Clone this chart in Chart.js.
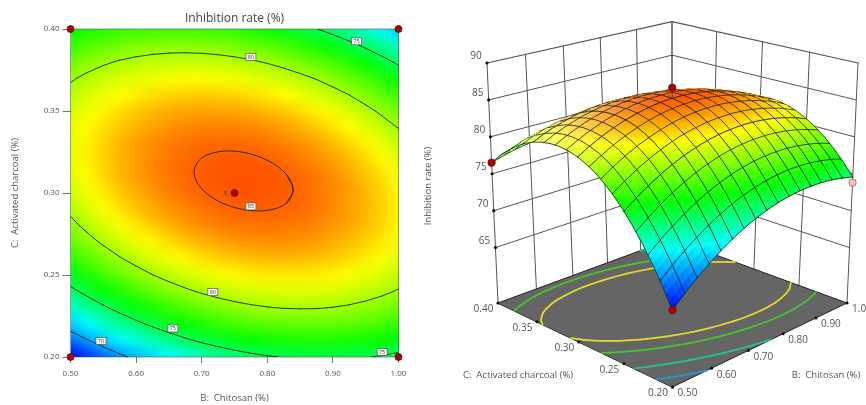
<!DOCTYPE html>
<html>
<head>
<meta charset="utf-8">
<title>Inhibition rate</title>
<script src="https://cdn.jsdelivr.net/npm/chart.js@4"></script>
<style>
    html, body { margin: 0; padding: 0; background: #fff; overflow: hidden; }
    canvas { position: absolute; top: 0; filter: blur(0.35px); }
    #contour { left: 0; }
    #surface { left: 415px; }
</style>
</head>
<body>
<canvas id="contour" width="415" height="405"></canvas>
<canvas id="surface" width="451" height="405"></canvas>
<script>
// values
const chitosanTicks = [0.5, 0.6, 0.7, 0.8, 0.9, 1.0];
const charcoalTicks = [0.2, 0.25, 0.3, 0.35, 0.4];
const rateTicks = [65, 70, 75, 80, 85, 90];

const chitosan = [0.5, 0.525, 0.55, 0.575, 0.6, 0.625, 0.65, 0.675, 0.7, 0.725, 0.75, 0.775, 0.8, 0.825, 0.85, 0.875, 0.9, 0.925, 0.95, 0.975, 1.0];
const charcoal = [0.4, 0.39, 0.38, 0.37, 0.36, 0.35, 0.34, 0.33, 0.32, 0.31, 0.3, 0.29, 0.28, 0.27, 0.26, 0.25, 0.24, 0.23, 0.22, 0.21, 0.2];

// one row per charcoal value, one column per chitosan value
const rate = [
    [76.49, 76.90, 77.25, 77.52, 77.72, 77.84, 77.89, 77.87, 77.77, 77.60, 77.36, 77.04, 76.66, 76.20, 75.66, 75.05, 74.37, 73.62, 72.79, 71.89, 70.91],
    [77.78, 78.23, 78.61, 78.91, 79.14, 79.30, 79.39, 79.40, 79.34, 79.20, 78.99, 78.71, 78.36, 77.93, 77.43, 76.85, 76.21, 75.49, 74.69, 73.83, 72.89],
    [78.88, 79.37, 79.78, 80.12, 80.38, 80.58, 80.69, 80.74, 80.71, 80.61, 80.44, 80.19, 79.87, 79.48, 79.01, 78.47, 77.86, 77.17, 76.41, 75.58, 74.67],
    [79.80, 80.32, 80.76, 81.14, 81.44, 81.66, 81.81, 81.90, 81.90, 81.83, 81.69, 81.48, 81.20, 80.84, 80.40, 79.90, 79.32, 78.67, 77.94, 77.14, 76.27],
    [80.53, 81.08, 81.56, 81.96, 82.30, 82.56, 82.75, 82.86, 82.90, 82.87, 82.76, 82.58, 82.33, 82.01, 81.61, 81.13, 80.59, 79.97, 79.28, 78.51, 77.68],
    [81.06, 81.65, 82.16, 82.61, 82.97, 83.27, 83.49, 83.64, 83.71, 83.71, 83.64, 83.50, 83.28, 82.99, 82.62, 82.18, 81.67, 81.09, 80.43, 79.70, 78.90],
    [81.41, 82.03, 82.58, 83.06, 83.46, 83.79, 84.04, 84.22, 84.33, 84.37, 84.33, 84.22, 84.04, 83.78, 83.45, 83.04, 82.57, 82.02, 81.39, 80.70, 79.93],
    [81.57, 82.23, 82.81, 83.32, 83.76, 84.12, 84.41, 84.62, 84.77, 84.84, 84.83, 84.76, 84.61, 84.38, 84.09, 83.72, 83.27, 82.76, 82.17, 81.51, 80.77],
    [81.55, 82.23, 82.85, 83.39, 83.86, 84.26, 84.58, 84.83, 85.01, 85.11, 85.15, 85.10, 84.99, 84.80, 84.54, 84.20, 83.79, 83.31, 82.76, 82.13, 81.43],
    [81.33, 82.05, 82.70, 83.28, 83.78, 84.21, 84.57, 84.86, 85.07, 85.20, 85.27, 85.26, 85.18, 85.03, 84.80, 84.50, 84.12, 83.67, 83.15, 82.56, 81.89],
    [80.92, 81.68, 82.37, 82.98, 83.51, 83.98, 84.37, 84.69, 84.94, 85.11, 85.21, 85.23, 85.18, 85.06, 84.87, 84.60, 84.26, 83.85, 83.36, 82.80, 82.17],
    [80.33, 81.12, 81.84, 82.49, 83.06, 83.56, 83.98, 84.33, 84.61, 84.82, 84.95, 85.01, 85.00, 84.91, 84.75, 84.52, 84.21, 83.83, 83.38, 82.85, 82.26],
    [79.55, 80.37, 81.13, 81.81, 82.41, 82.94, 83.40, 83.79, 84.10, 84.34, 84.51, 84.60, 84.63, 84.57, 84.45, 84.25, 83.98, 83.63, 83.21, 82.72, 82.16],
    [78.58, 79.44, 80.22, 80.94, 81.58, 82.14, 82.64, 83.06, 83.41, 83.68, 83.88, 84.01, 84.06, 84.05, 83.95, 83.79, 83.55, 83.24, 82.86, 82.40, 81.87],
    [77.42, 78.31, 79.13, 79.88, 80.55, 81.15, 81.68, 82.14, 82.52, 82.83, 83.06, 83.22, 83.31, 83.33, 83.27, 83.14, 82.94, 82.66, 82.31, 81.88, 81.39],
    [76.07, 77.00, 77.85, 78.63, 79.34, 79.98, 80.54, 81.03, 81.44, 81.79, 82.06, 82.25, 82.37, 82.42, 82.40, 82.30, 82.13, 81.89, 81.57, 81.18, 80.72],
    [74.53, 75.49, 76.38, 77.20, 77.94, 78.61, 79.21, 79.73, 80.18, 80.56, 80.86, 81.09, 81.25, 81.33, 81.34, 81.28, 81.14, 80.93, 80.65, 80.30, 79.87],
    [72.81, 73.80, 74.73, 75.58, 76.35, 77.06, 77.69, 78.24, 78.73, 79.14, 79.48, 79.74, 79.93, 80.05, 80.09, 80.07, 79.96, 79.79, 79.54, 79.22, 78.82],
    [70.89, 71.92, 72.88, 73.76, 74.57, 75.31, 75.98, 76.57, 77.09, 77.53, 77.90, 78.20, 78.43, 78.58, 78.66, 78.66, 78.59, 78.45, 78.24, 77.95, 77.59],
    [68.79, 69.85, 70.85, 71.76, 72.61, 73.38, 74.08, 74.70, 75.26, 75.73, 76.14, 76.47, 76.73, 76.92, 77.03, 77.07, 77.04, 76.93, 76.75, 76.50, 76.17],
    [66.50, 67.60, 68.62, 69.58, 70.45, 71.26, 71.99, 72.65, 73.24, 73.75, 74.19, 74.56, 74.85, 75.07, 75.22, 75.29, 75.29, 75.22, 75.07, 74.85, 74.56]
];

const contourLevels = [70, 75, 80];

// the small 85 ring. first and last points overlap so the loop closes smoothly
const ringChitosan = [0.8291, 0.8392, 0.8291, 0.8014, 0.7637, 0.7260, 0.6983, 0.6883, 0.6983, 0.7260, 0.7637, 0.8014, 0.8291, 0.8392, 0.8291];
const ringCharcoal = [0.2938, 0.3018, 0.3113, 0.3197, 0.3248, 0.3252, 0.3208, 0.3128, 0.3034, 0.2949, 0.2899, 0.2895, 0.2938, 0.3018, 0.3113];

const labelChitosan = [0.936, 0.775, 0.775, 0.717, 0.656, 0.5465, 0.975];
const labelCharcoal = [0.3925, 0.383, 0.2918, 0.2396, 0.2174, 0.2098, 0.203];
const labelText = ['75', '80', '85', '80', '75', '70', '75'];

const pointChitosan = [0.5, 1.0, 0.5, 1.0, 0.75];
const pointCharcoal = [0.2, 0.2, 0.4, 0.4, 0.3];

// design points shown on the 3D view
const point3dChitosan = [0.5, 0.75, 0.5, 1.0];
const point3dCharcoal = [0.4, 0.3, 0.2, 0.2];
const point3dRate = [76.5, 86.65, 66.5, 73.8];

const floorLevels = [70, 74.4, 79, 81.3];
const floorColors = ['#2396d8', '#1ec896', '#46c828', '#e6dc28'];

const rampStops = [66.5, 72, 76.5, 82, 86.8];
const rampColors = [[0, 0, 255], [0, 255, 255], [0, 255, 0], [255, 255, 0], [255, 0, 0]];

const fontName = '"Open Sans", "Noto Sans", sans-serif';
const textColor = '#555';

function rampColor(z) {
    let i = 0;
    while (i < rampStops.length - 2 && z > rampStops[i + 1]) i++;
    let f = (z - rampStops[i]) / (rampStops[i + 1] - rampStops[i]);
    f = Math.max(0, Math.min(1, f));
    return rampColors[i].map((c, k) => Math.round(c + (rampColors[i + 1][k] - c) * f));
}

// marching squares over the table, gives a list of little segments
function contourSegments(level) {
    const segments = [];
    for (let r = 0; r < charcoal.length - 1; r++) {
        for (let c = 0; c < chitosan.length - 1; c++) {
            const corners = [[r, c], [r, c + 1], [r + 1, c + 1], [r + 1, c]];
            const hits = [];
            for (let k = 0; k < 4; k++) {
                const p = corners[k], q = corners[(k + 1) % 4];
                const zp = rate[p[0]][p[1]], zq = rate[q[0]][q[1]];
                if ((zp < level) !== (zq < level)) {
                    const f = (level - zp) / (zq - zp);
                    hits.push({
                        x: chitosan[p[1]] + (chitosan[q[1]] - chitosan[p[1]]) * f,
                        y: charcoal[p[0]] + (charcoal[q[0]] - charcoal[p[0]]) * f
                    });
                }
            }
            for (let k = 0; k + 1 < hits.length; k += 2) segments.push([hits[k], hits[k + 1]]);
        }
    }
    return segments;
}

function gappedLine(segments) {
    const data = [];
    segments.forEach(s => data.push(s[0], s[1], { x: null, y: null }));
    return data;
}

//Contour plot

const heatmapPlugin = {
    id: 'heatmap',
    beforeDatasetsDraw(chart) {
        const { ctx, scales: { x, y } } = chart;
        const small = document.createElement('canvas');
        small.width = chitosan.length;
        small.height = charcoal.length;
        const sctx = small.getContext('2d');
        const img = sctx.createImageData(small.width, small.height);
        rate.forEach((row, r) => row.forEach((z, c) => {
            const col = rampColor(z), at = (r * small.width + c) * 4;
            img.data[at] = col[0];
            img.data[at + 1] = col[1];
            img.data[at + 2] = col[2];
            img.data[at + 3] = 255;
        }));
        sctx.putImageData(img, 0, 0);
        const left = x.getPixelForValue(chitosan[0]), right = x.getPixelForValue(chitosan[chitosan.length - 1]);
        const top = y.getPixelForValue(charcoal[0]), bottom = y.getPixelForValue(charcoal[charcoal.length - 1]);
        ctx.save();
        ctx.imageSmoothingEnabled = true;
        ctx.imageSmoothingQuality = 'high';
        ctx.drawImage(small, 0.5, 0.5, small.width - 1, small.height - 1, left, top, right - left, bottom - top);
        ctx.strokeStyle = 'rgba(60,80,60,0.55)';
        ctx.lineWidth = 1;
        ctx.strokeRect(left, top, right - left, bottom - top);
        ctx.restore();
    },
    afterDatasetsDraw(chart) {
        const { ctx, scales: { x, y } } = chart;
        ctx.save();
        ctx.font = '5.5px ' + fontName;
        ctx.textAlign = 'center';
        ctx.textBaseline = 'middle';
        labelText.forEach((t, i) => {
            const px = x.getPixelForValue(labelChitosan[i]), py = y.getPixelForValue(labelCharcoal[i]);
            ctx.fillStyle = '#fff';
            ctx.strokeStyle = '#555';
            ctx.lineWidth = 0.7;
            ctx.fillRect(px - 5, py - 3.5, 10, 7);
            ctx.strokeRect(px - 5, py - 3.5, 10, 7);
            ctx.fillStyle = '#333';
            ctx.fillText(t, px, py + 0.3);
        });
        ctx.fillStyle = '#333';
        ctx.fillText('5', x.getPixelForValue(0.75) - 9, y.getPixelForValue(0.3));
        ctx.restore();
    }
};

const contourLine = {
    showLine: true,
    spanGaps: false,
    pointRadius: 0,
    borderColor: 'rgba(30,40,25,0.9)',
    borderWidth: 1,
    borderCapStyle: 'round'
};

new Chart(document.querySelector('#contour'), {
    type: 'scatter',
    data: {
        datasets: [
            ...contourLevels.map(level => ({ ...contourLine, data: gappedLine(contourSegments(level)), tension: 0 })),
            { ...contourLine, data: ringChitosan.map((b, i) => ({ x: b, y: ringCharcoal[i] })), tension: 0.35 },
            {
                data: pointChitosan.map((b, i) => ({ x: b, y: pointCharcoal[i] })),
                pointRadius: 3.5,
                pointBackgroundColor: '#b00000',
                pointBorderColor: '#5a1010',
                pointBorderWidth: 0.8,
                clip: false
            }
        ]
    },
    options: {
        responsive: false,
        animation: false,
        devicePixelRatio: 1,
        layout: { autoPadding: false, padding: { right: 16.5 } },
        plugins: {
            legend: { display: false },
            tooltip: { enabled: false },
            title: {
                display: true,
                text: 'Inhibition rate (%)',
                color: '#444',
                fullSize: false,
                font: { family: fontName, size: 12, weight: 'normal', lineHeight: 1.2 },
                padding: { top: 11, bottom: 3.6 }
            }
        },
        scales: {
            x: {
                type: 'linear',
                min: 0.5,
                max: 1.0,
                afterFit: s => { s.height = 48; },
                afterBuildTicks: s => { s.ticks = chitosanTicks.map(v => ({ value: v })); },
                border: { display: false },
                grid: { drawOnChartArea: false, tickLength: 6, color: '#777' },
                ticks: {
                    callback: v => v.toFixed(2),
                    font: { family: fontName, size: 8 },
                    color: textColor,
                    maxRotation: 0,
                    padding: 6
                },
                title: {
                    display: true,
                    text: 'B:  Chitosan (%)',
                    color: textColor,
                    font: { family: fontName, size: 9.5 },
                    padding: { top: 0, bottom: 1 }
                }
            },
            y: {
                type: 'linear',
                min: 0.2,
                max: 0.4,
                afterFit: s => { s.width = 70.5; },
                afterBuildTicks: s => { s.ticks = charcoalTicks.map(v => ({ value: v })); },
                border: { display: false },
                grid: { drawOnChartArea: false, tickLength: 8, color: '#777' },
                ticks: {
                    callback: v => v.toFixed(2),
                    font: { family: fontName, size: 8 },
                    color: textColor,
                    padding: 3
                },
                title: {
                    display: true,
                    text: 'C:  Activated charcoal (%)',
                    color: textColor,
                    font: { family: fontName, size: 9.5 },
                    padding: { top: 10, bottom: 0 }
                }
            }
        }
    },
    plugins: [heatmapPlugin]
});

//3D view, the box is a perspective map of chitosan, charcoal and rate onto the page

const boxFloor = [[672.5, 387], [847, 303], [672, 239], [498, 303]];
const boxTop = [[672.5, 109], [858, 63], [672, 21.7], [487, 63]];
const zFloor = 57.5, zTop = 90;
const cellSplit = 3;
const meshCells = 16;

function squareToQuad(q) {
    const [[x0, y0], [x1, y1], [x2, y2], [x3, y3]] = q;
    const dx1 = x1 - x2, dx2 = x3 - x2, sx = x0 - x1 + x2 - x3;
    const dy1 = y1 - y2, dy2 = y3 - y2, sy = y0 - y1 + y2 - y3;
    const den = dx1 * dy2 - dx2 * dy1;
    const g = (sx * dy2 - dx2 * sy) / den, h = (dx1 * sy - sx * dy1) / den;
    const a = x1 - x0 + g * x1, b = x3 - x0 + h * x3;
    const d = y1 - y0 + g * y1, e = y3 - y0 + h * y3;
    return (u, v) => {
        const w = g * u + h * v + 1;
        return [(a * u + b * v + x0) / w, (d * u + e * v + y0) / w];
    };
}

const mapFloor = squareToQuad(boxFloor), mapTop = squareToQuad(boxTop);

function project(b, c, z) {
    const u = (b - 0.5) / 0.5, v = (c - 0.2) / 0.2;
    const low = mapFloor(u, v), high = mapTop(u, v);
    const f = (z - zFloor) / (zTop - zFloor);
    return { x: low[0] + (high[0] - low[0]) * f, y: low[1] + (high[1] - low[1]) * f };
}

const surfacePlugin = {
    id: 'surface3d',
    beforeDatasetsDraw(chart) {
        const { ctx, scales: { x, y } } = chart;
        const px = (b, c, z) => {
            const p = project(b, c, z);
            return [x.getPixelForValue(p.x), y.getPixelForValue(p.y)];
        };
        const line = (a, b) => {
            ctx.beginPath();
            ctx.moveTo(a[0], a[1]);
            ctx.lineTo(b[0], b[1]);
            ctx.stroke();
        };
        const dot = p => {
            ctx.beginPath();
            ctx.arc(p[0], p[1], 1.6, 0, Math.PI * 2);
            ctx.fill();
        };
        const quad = pts => {
            ctx.beginPath();
            pts.forEach((q, i) => {
                if (i === 0) ctx.moveTo(q[0], q[1]); else ctx.lineTo(q[0], q[1]);
            });
            ctx.closePath();
        };

        ctx.save();
        ctx.lineCap = 'round';
        ctx.lineJoin = 'round';

        // walls
        ctx.strokeStyle = '#555';
        ctx.lineWidth = 1;
        rateTicks.forEach(z => {
            ctx.lineWidth = z === 90 ? 1.2 : 1;
            line(px(0.5, 0.4, z), px(1, 0.4, z));
            line(px(1, 0.4, z), px(1, 0.2, z));
        });
        ctx.lineWidth = 1;
        chitosanTicks.forEach(b => line(px(b, 0.4, zFloor), px(b, 0.4, zTop)));
        charcoalTicks.forEach(c => line(px(1, c, zFloor), px(1, c, zTop)));

        // floor
        ctx.fillStyle = '#656565';
        quad([px(0.5, 0.2, zFloor), px(1, 0.2, zFloor), px(1, 0.4, zFloor), px(0.5, 0.4, zFloor)]);
        ctx.fill();
        ctx.strokeStyle = '#222';
        ctx.stroke();

        floorLevels.forEach((level, i) => {
            ctx.strokeStyle = floorColors[i];
            ctx.lineWidth = 1.7;
            contourSegments(level).forEach(s => line(px(s[0].x, s[0].y, zFloor), px(s[1].x, s[1].y, zFloor)));
        });

        // tick dots and labels
        ctx.fillStyle = '#111';
        rateTicks.forEach(z => dot(px(0.5, 0.4, z)));
        chitosanTicks.forEach(b => dot(px(b, 0.2, zFloor)));
        charcoalTicks.forEach(c => dot(px(0.5, c, zFloor)));

        ctx.fillStyle = textColor;
        ctx.font = '10px ' + fontName;
        ctx.textAlign = 'center';
        ctx.textBaseline = 'middle';
        rateTicks.forEach(z => {
            const p = px(0.5, 0.4, z);
            ctx.fillText(String(z), p[0] - 11, p[1] - 6.5);
        });
        chitosanTicks.forEach(b => {
            const p = px(b, 0.2, zFloor);
            ctx.fillText(b.toFixed(2), p[0] + 15, p[1] + 6.5);
        });
        charcoalTicks.forEach(c => {
            const p = px(0.5, c, zFloor);
            ctx.fillText(c.toFixed(2), p[0] - 14.5, p[1] + 6.5);
        });

        ctx.font = '9.5px ' + fontName;
        ctx.fillText('C:  Activated charcoal (%)', x.getPixelForValue(518), y.getPixelForValue(375.7));
        ctx.fillText('B:  Chitosan (%)', x.getPixelForValue(826), y.getPixelForValue(375.7));
        ctx.save();
        ctx.translate(x.getPixelForValue(428), y.getPixelForValue(186));
        ctx.rotate(-Math.PI / 2);
        ctx.fillText('Inhibition rate (%)', 0, 0);
        ctx.restore();

        // surface, back corner first so nearer cells cover it
        const meshStep = (chitosan.length - 1) / meshCells;
        for (let r = 0; r < charcoal.length - 1; r++) {
            for (let c = chitosan.length - 2; c >= 0; c--) {
                const z00 = rate[r][c], z01 = rate[r][c + 1], z10 = rate[r + 1][c], z11 = rate[r + 1][c + 1];
                const b0 = chitosan[c], b1 = chitosan[c + 1], c0 = charcoal[r], c1 = charcoal[r + 1];
                const corner = (f, g) => {
                    const z = z00 * (1 - f) * (1 - g) + z01 * f * (1 - g) + z10 * (1 - f) * g + z11 * f * g;
                    return px(b0 + (b1 - b0) * f, c0 + (c1 - c0) * g, z);
                };
                // light comes from the left corner of the box, those slopes look paler
                const slope = ((z01 + z11 - z00 - z10) / 2 - (z00 + z01 - z10 - z11) / 2) / 0.1;
                const pale = Math.max(0, Math.min(0.42, 0.07 + 0.04 * slope));
                ctx.lineWidth = 0.5;
                for (let i = 0; i < cellSplit; i++) {
                    for (let j = 0; j < cellSplit; j++) {
                        const f = (j + 0.5) / cellSplit, g = (i + 0.5) / cellSplit;
                        const z = z00 * (1 - f) * (1 - g) + z01 * f * (1 - g) + z10 * (1 - f) * g + z11 * f * g;
                        const col = rampColor(z).map(v => Math.round(v + (255 - v) * pale));
                        const css = `rgb(${col[0]},${col[1]},${col[2]})`;
                        ctx.fillStyle = css;
                        ctx.strokeStyle = css;
                        quad([corner(j / cellSplit, i / cellSplit), corner((j + 1) / cellSplit, i / cellSplit),
                            corner((j + 1) / cellSplit, (i + 1) / cellSplit), corner(j / cellSplit, (i + 1) / cellSplit)]);
                        ctx.fill();
                        ctx.stroke();
                    }
                }
                // the mesh is coarser than the table, draw the bits of its lines that cross this cell
                ctx.lineWidth = 0.95;
                ctx.strokeStyle = 'rgba(25,35,25,0.85)';
                for (let k = 0; k <= meshCells; k++) {
                    const m = k * meshStep;
                    if (m >= c && m <= c + 1) line(corner(m - c, 0), corner(m - c, 1));
                    if (m >= r && m <= r + 1) line(corner(0, m - r), corner(1, m - r));
                }
            }
        }

        // stem of the centre point down to the surface
        ctx.strokeStyle = '#444';
        ctx.lineWidth = 1;
        line(px(0.75, 0.3, point3dRate[1]), px(0.75, 0.3, rate[10][10]));
        ctx.restore();
    }
};

new Chart(document.querySelector('#surface'), {
    type: 'scatter',
    data: {
        datasets: [{
            data: point3dChitosan.map((b, i) => project(b, point3dCharcoal[i], point3dRate[i])),
            pointRadius: 3.7,
            pointBackgroundColor: ['#b00000', '#b00000', '#b00000', '#f4c4b8'],
            pointBorderColor: ['#5a1010', '#5a1010', '#5a1010', '#a06060'],
            pointBorderWidth: 0.8,
            clip: false
        }]
    },
    options: {
        responsive: false,
        animation: false,
        devicePixelRatio: 1,
        layout: { autoPadding: false },
        plugins: { legend: { display: false }, tooltip: { enabled: false } },
        scales: {
            x: { type: 'linear', display: false, min: 415, max: 866 },
            y: { type: 'linear', display: false, min: 0, max: 405, reverse: true }
        }
    },
    plugins: [surfacePlugin]
});
</script>
</body>
</html>
